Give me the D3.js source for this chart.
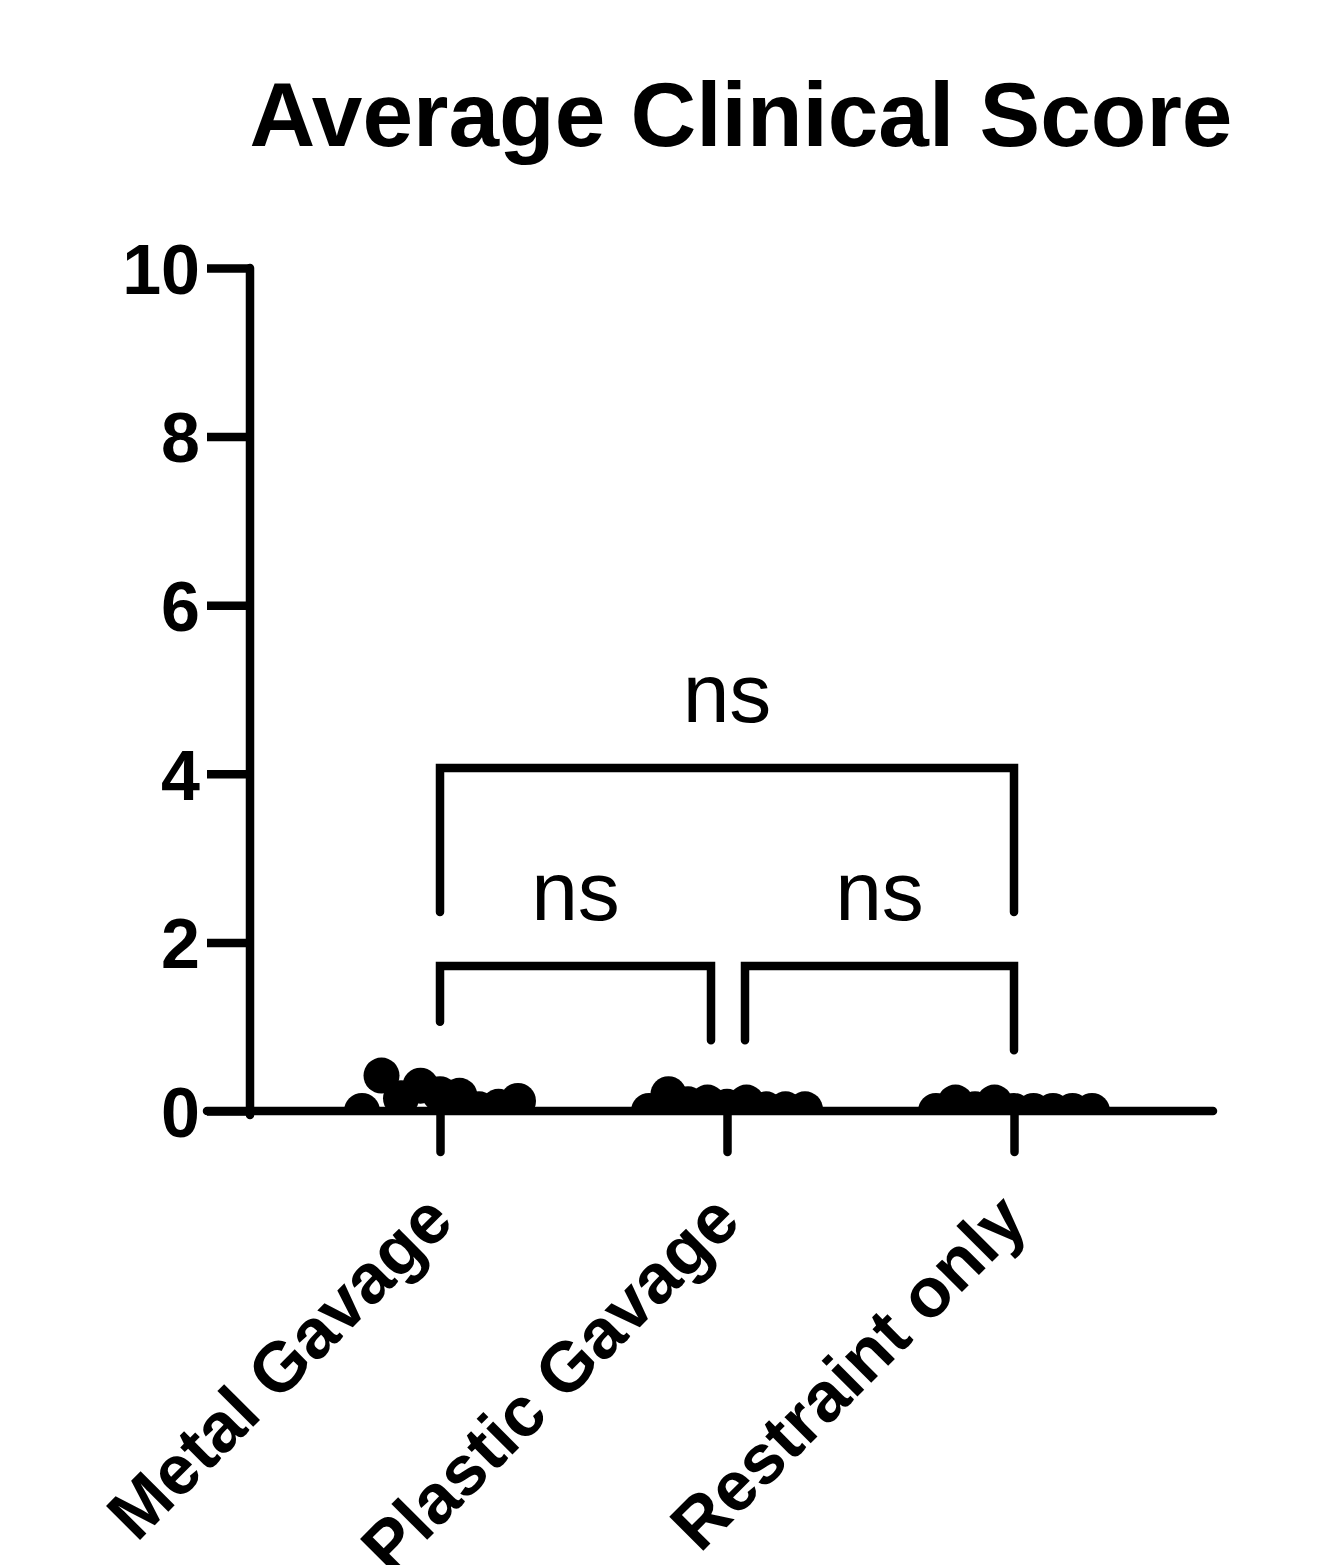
<!DOCTYPE html>
<html>
<head>
<meta charset="utf-8">
<script src="https://cdn.jsdelivr.net/npm/d3@7"></script>
<style>
  body { margin: 0; background: #fff; }
  svg { display: block; font-family: "Liberation Sans", Arial, sans-serif; }
</style>
</head>
<body>
<div id="chart"></div>
<script>
// groups and scores (one dot per animal)
const groups = ["Metal Gavage", "Plastic Gavage", "Restraint only"];
const metalScores = [0, 0.42, 0.15, 0.3, 0.2, 0.18, 0.02, 0.05, 0.12];
const plasticScores = [0, 0.2, 0.08, 0.1, 0.05, 0.1, 0.02, 0.02, 0.02];
const restraintScores = [0, 0.1, 0.02, 0.1, 0, 0, 0, 0, 0];
const yTicks = [0, 2, 4, 6, 8, 10];

// comparisons: group index pairs, bracket height and leg ends (score units)
const compFrom = [0, 1, 0];
const compTo = [1, 2, 2];
const compTop = [1.72, 1.72, 4.07];
const compLegLeft = [1.06, 0.84, 2.36];
const compLegRight = [0.84, 0.72, 2.36];
const compLabel = ["ns", "ns", "ns"];

const width = 1336, height = 1565;
const lw = 8.5;

const svg = d3.select("#chart").append("svg")
    .attr("width", width)
    .attr("height", height);

const x = d3.scalePoint().domain(groups).range([440, 1014]);
const y = d3.scaleLinear().domain([0, 10]).range([1111, 268]);

// points sit on the axis, so the part below zero is hidden
svg.append("defs").append("clipPath")
    .attr("id", "plotClip")
    .append("rect")
    .attr("x", 250).attr("y", 0)
    .attr("width", width - 250).attr("height", y(0));

// title
svg.append("text")
    .attr("x", 741)
    .attr("y", 146)
    .attr("text-anchor", "middle")
    .style("font-size", "91px")
    .style("font-weight", "700")
    .text("Average Clinical Score");

// y axis
const yAxis = svg.append("g")
    .attr("transform", "translate(250,0)")
    .call(d3.axisLeft(y).tickValues(yTicks).tickSize(43).tickPadding(7));
yAxis.select(".domain").remove();
yAxis.selectAll(".tick line")
    .attr("stroke", "#000")
    .attr("stroke-width", lw);
yAxis.selectAll(".tick text")
    .attr("fill", "#000")
    .style("font-size", "70px")
    .style("font-weight", "700")
    .style("font-family", "'Liberation Sans', Arial, sans-serif")
    .attr("dy", "0.36em");

// dots
const step = 19.5, r = 18;
const allScores = [metalScores, plasticScores, restraintScores];
const dots = svg.append("g").attr("clip-path", "url(#plotClip)");
allScores.forEach((scores, gi) => {
    const n = scores.length;
    dots.append("g").selectAll("circle").data(scores).enter().append("circle")
        .attr("cx", (d, i) => x(groups[gi]) + (i - (n - 1) / 2) * step)
        .attr("cy", d => y(d))
        .attr("r", r)
        .attr("fill", "#000");
});

svg.append("line")
    .attr("x1", 250).attr("x2", 250)
    .attr("y1", y(10)).attr("y2", y(0) + 4)
    .attr("stroke", "#000")
    .attr("stroke-width", lw)
    .attr("stroke-linecap", "round");

// x axis
svg.append("line")
    .attr("x1", 207).attr("x2", 1213)
    .attr("y1", y(0)).attr("y2", y(0))
    .attr("stroke", "#000")
    .attr("stroke-width", lw)
    .attr("stroke-linecap", "round");

const xAxis = svg.append("g")
    .attr("transform", `translate(0,${y(0)})`)
    .call(d3.axisBottom(x).tickSize(41).tickFormat(""));
xAxis.select(".domain").remove();
xAxis.selectAll(".tick line")
    .attr("stroke", "#000")
    .attr("stroke-width", lw)
    .attr("stroke-linecap", "round");

svg.selectAll("text.xlab").data(groups).enter().append("text")
    .attr("class", "xlab")
    .attr("transform", d => `translate(${x(d) + 16},1224) rotate(-45)`)
    .attr("text-anchor", "end")
    .style("font-size", "70px")
    .style("font-weight", "700")
    .text(d => d);

// significance brackets
const gap = 16;
compFrom.forEach((f, i) => {
    const t = compTo[i];
    const adjacent = (t - f) === 1;
    const x1 = x(groups[f]) + (adjacent && f === 1 ? gap + 2 : 0);
    const x2 = x(groups[t]) - (adjacent && t === 1 ? gap : 0);
    const yt = y(compTop[i]);
    svg.append("path")
        .attr("d", `M${x1},${y(compLegLeft[i])} L${x1},${yt} L${x2},${yt} L${x2},${y(compLegRight[i])}`)
        .attr("fill", "none")
        .attr("stroke", "#000")
        .attr("stroke-width", lw)
        .attr("stroke-linejoin", "miter")
        .attr("stroke-linecap", "round");
    svg.append("text")
        .attr("x", (x1 + x2) / 2)
        .attr("y", yt - 46)
        .attr("text-anchor", "middle")
        .style("font-size", "84px")
        .text(compLabel[i]);
});
</script>
</body>
</html>
